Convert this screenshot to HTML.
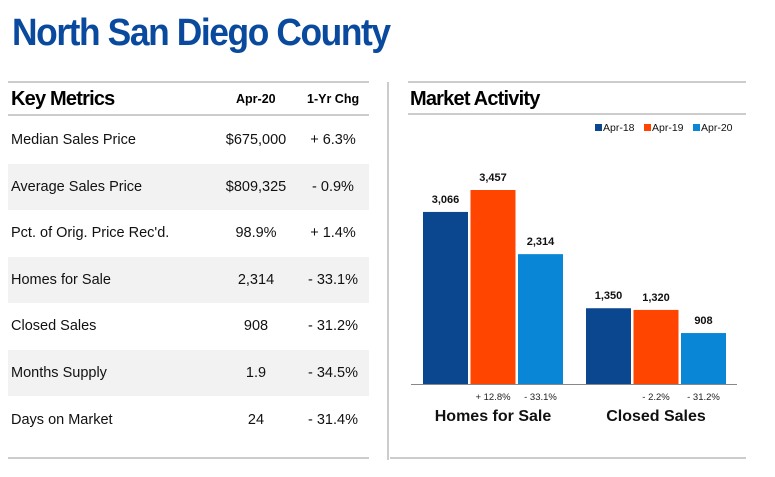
<!DOCTYPE html>
<html><head><meta charset="utf-8"><style>
body{margin:0;width:775px;height:477px;background:#fff;font-family:"Liberation Sans",sans-serif;position:relative;overflow:hidden}
.a{position:absolute}
.row{position:absolute;left:8px;width:361px;height:46px;font-size:14.5px;color:#111}
.row span{position:absolute;top:15px}
.g{background:#f2f2f2}
</style></head><body>
<div class="a" style="left:12px;top:12px;font-size:38px;font-weight:bold;color:#0a4a9e;letter-spacing:-1.5px;transform:scaleX(0.93);transform-origin:left">North San Diego County</div>
<div class="a" style="left:8px;top:81px;width:361px;height:2px;background:#ccc"></div>
<div class="a" style="left:11px;top:88px;font-size:20px;font-weight:bold;letter-spacing:-0.8px">Key Metrics</div>
<div class="a" style="left:236px;top:92px;font-size:12.5px;font-weight:bold">Apr-20</div>
<div class="a" style="left:307px;top:92px;font-size:12.5px;font-weight:bold">1-Yr Chg</div>
<div class="a" style="left:8px;top:114px;width:361px;height:2px;background:#ccc"></div>
<div id="rows"></div>
<div class="a" style="left:8px;top:457px;width:361px;height:2px;background:#ccc"></div>
<div class="a" style="left:387px;top:82px;width:2px;height:378px;background:#ccc"></div>
<div class="a" style="left:408px;top:81px;width:338px;height:2px;background:#ccc"></div>
<div class="a" style="left:410px;top:88px;font-size:20px;font-weight:bold;letter-spacing:-0.8px">Market Activity</div>
<div class="a" style="left:408px;top:113px;width:338px;height:2px;background:#ccc"></div>
<div class="a" style="left:390px;top:457px;width:356px;height:2px;background:#ccc"></div>
<svg class="a" id="chart" style="left:0;top:0" width="775" height="477"></svg>
<script>
const metrics=["Median Sales Price","Average Sales Price","Pct. of Orig. Price Rec'd.","Homes for Sale","Closed Sales","Months Supply","Days on Market"];
const values=["$675,000","$809,325","98.9%","2,314","908","1.9","24"];
const changes=["+ 6.3%","- 0.9%","+ 1.4%","- 33.1%","- 31.2%","- 34.5%","- 31.4%"];
const rows=document.getElementById('rows');
metrics.forEach((m,i)=>{
 const d=document.createElement('div');
 d.className='row'+(i%2?' g':'');
 d.style.top=(117+i*46.6)+'px';
 
 
 d.innerHTML=`<span style="left:3px">${m}</span><span style="left:198px;width:100px;text-align:center">${values[i]}</span><span style="left:275px;width:100px;text-align:center">${changes[i]}</span>`;
 rows.appendChild(d);
});
const categories=["Homes for Sale","Closed Sales"];
const series=["Apr-18","Apr-19","Apr-20"];
const apr18=[3066,1350];
const apr19=[3457,1320];
const apr20=[2314,908];
const pctLabels=[["","+ 12.8%","- 33.1%"],["","- 2.2%","- 31.2%"]];
const colors=["#0b478e","#ff4500","#0a86d6"];
const svg=document.getElementById('chart');const NS="http://www.w3.org/2000/svg";
const base=384,k=194/3457;
const y=v=>base-v*k;
const groupX=[423,586],bw=45,step=47.5;
function el(t,a,txt){const e=document.createElementNS(NS,t);for(const x in a)e.setAttribute(x,a[x]);if(txt!=null)e.textContent=txt;svg.appendChild(e);return e;}
const data=[apr18,apr19,apr20];
categories.forEach((c,ci)=>{
 data.forEach((s,si)=>{
  const x=groupX[ci]+si*step,v=s[ci];
  const r=el('rect',{x:x,y:y(v),width:bw,height:v*k,fill:colors[si]});
  
  
  const t=el('text',{x:x+bw/2,y:y(v)-9,'text-anchor':'middle','font-size':'11','font-weight':'bold',fill:'#111'},v.toLocaleString('en-US'));
  
  
  if(pctLabels[ci][si]){const p=el('text',{x:x+bw/2,y:400,'text-anchor':'middle','font-size':'9.5',fill:'#222'},pctLabels[ci][si]);
  
  }
 });
 const l=el('text',{x:groupX[ci]+70,y:421,'text-anchor':'middle','font-size':'16','font-weight':'bold',fill:'#111'},c);
 
 
});
const ax=el('line',{x1:411,x2:737,y1:base+0.5,y2:base+0.5,stroke:'#888','stroke-width':1});


const lx=[595,644,693];
series.forEach((s,i)=>{
 const r=el('rect',{x:lx[i],y:124,width:7,height:7,fill:colors[i]});
 
 
 const t=el('text',{x:lx[i]+8,y:131,'font-size':'10.5',fill:'#111'},s);
 
 
});
</script>
</body></html>
